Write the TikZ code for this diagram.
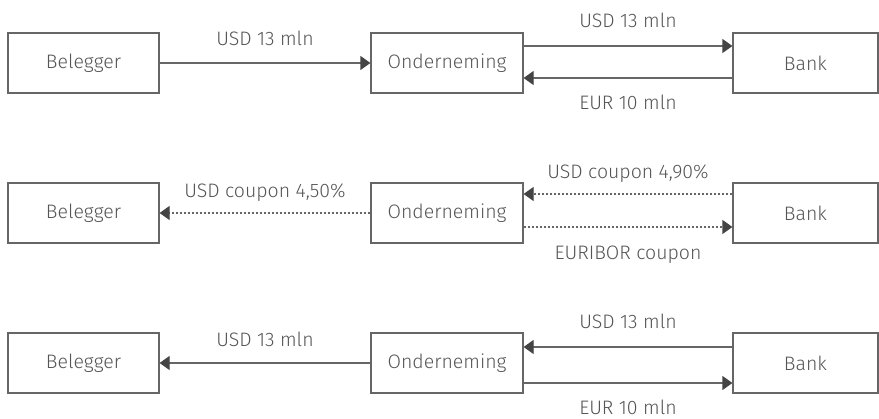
\documentclass[tikz,border=0pt]{standalone}
\usepackage{fontspec}
\setmainfont{Fira Sans}[UprightFont=* Light]
\usetikzlibrary{arrows.meta}
\definecolor{txt}{HTML}{555555}
\definecolor{ln}{HTML}{666666}
\definecolor{tip}{HTML}{444444}
\tikzset{
  box/.style={draw=ln, line width=1.2pt, rectangle, minimum height=60pt, inner sep=0pt, text=txt, font=\fontsize{19.5}{22}\selectfont},
  flow/.style={draw=ln, line width=1.2pt, -{Triangle[length=10pt,width=14pt,color=tip]}},
  dots/.style={dash pattern=on 2pt off 2pt},
  lbl/.style={text=txt, font=\fontsize{19.5}{22}\selectfont, anchor=base, inner sep=0pt}
}
\begin{document}
\begin{tikzpicture}[x=1pt,y=-1pt]
\useasboundingbox (0,0) rectangle (879,419);
% row 1
\node[box, minimum width=151pt] (B1) at (83.5,63) {Belegger};
\node[box, minimum width=152pt] (O1) at (447,63) {Onderneming};
\node[box, minimum width=145pt] (K1) at (805.5,63) {Bank};
\draw[flow] (B1) -- node[lbl, yshift=17pt] {USD 13 mln} (O1);
\draw[flow] ([yshift=17pt]O1.east) -- node[lbl, yshift=18pt] {USD 13 mln} ([yshift=17pt]K1.west);
\draw[flow] ([yshift=-15pt]K1.west) -- node[lbl, yshift=-32pt] {EUR 10 mln} ([yshift=-15pt]O1.east);
% row 2
\node[box, minimum width=151pt] (B2) at (83.5,213) {Belegger};
\node[box, minimum width=152pt] (O2) at (447,213) {Onderneming};
\node[box, minimum width=145pt] (K2) at (805.5,213) {Bank};
\draw[flow, dots] (O2) -- node[lbl, yshift=15pt] {USD coupon 4,50\%} (B2);
\draw[flow, dots] ([yshift=19pt]K2.west) -- node[lbl, yshift=15pt] {USD coupon 4,90\%} ([yshift=19pt]O2.east);
\draw[flow, dots] ([yshift=-14pt]O2.east) -- node[lbl, yshift=-33pt] {EURIBOR coupon} ([yshift=-14pt]K2.west);
% row 3
\node[box, minimum width=151pt] (B3) at (83.5,363) {Belegger};
\node[box, minimum width=152pt] (O3) at (447,363) {Onderneming};
\node[box, minimum width=145pt] (K3) at (805.5,363) {Bank};
\draw[flow] (O3) -- node[lbl, yshift=16pt] {USD 13 mln} (B3);
\draw[flow] ([yshift=16pt]K3.west) -- node[lbl, yshift=18pt] {USD 13 mln} ([yshift=16pt]O3.east);
\draw[flow] ([yshift=-20pt]O3.east) -- node[lbl, yshift=-32pt] {EUR 10 mln} ([yshift=-20pt]K3.west);
\end{tikzpicture}
\end{document}
